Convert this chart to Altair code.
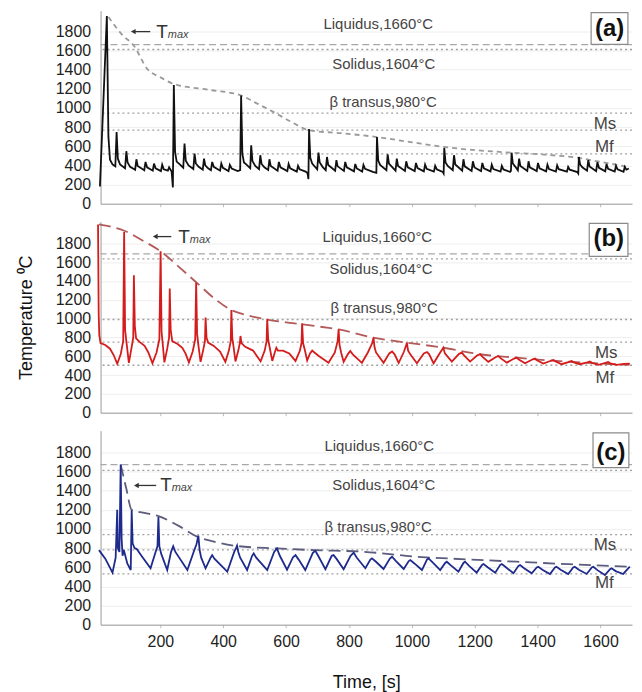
import altair as alt
import pandas as pd

# ---------------- data ----------------
x_ticks = [200, 400, 600, 800, 1000, 1200, 1400, 1600]
y_ticks = [0, 200, 400, 600, 800, 1000, 1200, 1400, 1600, 1800]
ref_names = ["Liquidus,1660°C", "Solidus,1604°C", "β transus,980°C", "Ms", "Mf"]

# (time s, temperature C)
series_a = [
    (8, 180), (30, 1960), (35, 700), (40, 460), (48, 410), (57, 390), (61, 748), (65, 470), (72, 410),
    (88, 370), (92, 548), (96, 430), (104, 385), (120, 355), (124, 464), (128, 395), (149, 350),
    (153, 436), (158, 380), (176, 345), (180, 419), (185, 370), (202, 340), (206, 408), (211, 360),
    (224, 345), (228, 380), (236, 335), (240, 170),
    (243, 1240), (247, 540), (252, 440), (262, 410), (273, 375), (277, 627), (281, 450), (290, 400),
    (305, 362), (309, 523), (313, 420), (322, 385), (335, 355), (339, 471), (343, 400), (352, 370),
    (361, 350), (365, 436), (370, 385), (390, 345), (394, 420), (399, 375), (417, 340), (421, 405),
    (427, 368), (446, 340), (454, 350),
    (457, 1130), (461, 520), (466, 430), (475, 405), (486, 370), (489, 610), (493, 445), (502, 395),
    (514, 360), (518, 506), (522, 415), (531, 380), (543, 352), (547, 464), (551, 395), (573, 345),
    (577, 436), (582, 380), (604, 340), (608, 415), (613, 370), (634, 335), (638, 395), (643, 360),
    (662, 335), (668, 320), (671, 256),
    (673, 780), (677, 480), (683, 420), (699, 360), (703, 533), (707, 430), (716, 385), (726, 350),
    (730, 488), (734, 405), (756, 345), (760, 454), (764, 390), (784, 342), (788, 436), (793, 380),
    (816, 338), (820, 415), (825, 368), (842, 335), (846, 405), (851, 365), (876, 332), (887, 322),
    (889, 696), (893, 450), (899, 405), (919, 350), (923, 516), (927, 420), (948, 345), (952, 471),
    (956, 395), (978, 342), (982, 443), (987, 380), (1009, 340), (1013, 426), (1018, 372),
    (1038, 338), (1042, 408), (1047, 365), (1070, 335), (1074, 395), (1079, 360), (1098, 332),
    (1101, 315),
    (1103, 582), (1107, 430), (1114, 395), (1130, 350), (1134, 506), (1138, 410), (1160, 345),
    (1164, 464), (1168, 390), (1190, 342), (1194, 443), (1199, 378), (1220, 340), (1224, 426),
    (1229, 370), (1250, 338), (1254, 408), (1259, 362), (1282, 335), (1286, 395), (1291, 358),
    (1312, 332), (1315, 343),
    (1317, 533), (1321, 420), (1328, 390), (1337, 348), (1341, 471), (1345, 395), (1367, 342),
    (1371, 443), (1375, 380), (1397, 340), (1401, 426), (1406, 370), (1427, 338), (1431, 408),
    (1436, 362), (1458, 336), (1462, 401), (1467, 360), (1493, 334), (1497, 384), (1502, 355),
    (1526, 330), (1529, 315),
    (1531, 488), (1535, 410), (1542, 380), (1557, 345), (1561, 454), (1565, 390), (1586, 340),
    (1590, 433), (1595, 375), (1615, 338), (1619, 415), (1624, 365), (1645, 336), (1649, 395),
    (1654, 358), (1673, 334), (1677, 384), (1682, 355), (1690, 367),
]
tmax_a = [
    (35, 1950), (80, 1760), (116, 1650), (159, 1405), (200, 1320), (243, 1250), (350, 1191),
    (457, 1130), (510, 1042), (561, 956), (614, 859), (674, 766), (780, 735), (889, 696),
    (995, 644), (1103, 592), (1207, 558), (1317, 533), (1422, 512), (1531, 478), (1597, 439),
    (1688, 384),
]

series_b = [
    (2, 2000), (4, 1050), (6, 820), (10, 740), (25, 720), (40, 680), (52, 610), (63, 520), (74, 620),
    (82, 760), (85, 1920), (88, 880), (92, 760), (100, 530), (108, 680), (114, 800), (116, 1460),
    (119, 920), (123, 790), (135, 750), (150, 710), (162, 640), (175, 525), (188, 640), (197, 780),
    (201, 1715), (204, 860), (208, 720), (213, 535), (222, 680), (228, 800), (230, 1320), (233, 880),
    (238, 760), (255, 730), (270, 690), (280, 630), (291, 535), (303, 650), (311, 780), (314, 1380),
    (317, 840), (321, 720), (328, 540), (336, 660), (342, 760), (344, 1010), (347, 800), (352, 745),
    (370, 710), (390, 650), (407, 540), (418, 660), (424, 760), (426, 1090), (429, 790), (433, 700),
    (439, 545), (448, 660), (453, 740), (455, 815), (458, 740), (470, 700), (495, 660), (519, 545),
    (532, 660), (538, 760), (540, 995), (543, 780), (548, 690), (556, 550), (564, 640), (569, 690),
    (574, 660), (590, 660), (610, 630), (630, 550), (644, 660), (649, 740), (651, 950), (654, 740),
    (660, 660), (667, 555), (676, 630), (683, 660), (690, 640), (705, 600), (735, 530), (755, 640),
    (764, 760), (767, 885), (770, 720), (775, 640), (783, 540), (796, 620), (804, 656), (812, 620),
    (841, 530), (860, 640), (874, 740), (878, 797), (881, 700), (886, 640), (910, 530), (928, 630),
    (937, 650), (945, 620), (958, 528), (975, 650), (982, 720), (984, 744), (988, 660), (995, 620),
    (1016, 525), (1038, 630), (1048, 645), (1055, 620), (1069, 525), (1090, 640), (1098, 680),
    (1100, 691), (1105, 630), (1127, 543), (1150, 625), (1159, 638), (1166, 610), (1185, 543),
    (1208, 610), (1217, 621), (1224, 595), (1243, 540), (1266, 590), (1275, 603), (1282, 580),
    (1302, 532), (1325, 575), (1333, 585), (1340, 565), (1360, 525), (1383, 565), (1392, 575),
    (1399, 555), (1418, 522), (1442, 552), (1450, 561), (1457, 545), (1476, 515), (1500, 540),
    (1508, 550), (1515, 535), (1534, 515), (1558, 535), (1566, 543), (1573, 530), (1593, 508),
    (1616, 530), (1624, 538), (1631, 525), (1651, 508), (1675, 518), (1693, 522),
]
tmax_b = [
    (5, 2000), (87, 1930), (150, 1818), (201, 1715), (260, 1547), (314, 1386), (370, 1219),
    (423, 1095), (480, 1033), (540, 990), (600, 960), (651, 940), (730, 903), (767, 885),
    (878, 797), (984, 744), (1100, 691), (1217, 621), (1333, 585), (1460, 550), (1577, 526),
    (1692, 508),
]

series_c = [
    (5, 779), (25, 690), (48, 544), (58, 700), (63, 1200), (65, 800), (70, 760), (74, 1673), (77, 900),
    (80, 720), (84, 780), (95, 640), (106, 571), (109, 1195), (112, 850), (118, 800), (125, 790),
    (140, 720), (169, 589), (185, 760), (191, 820), (194, 1125), (197, 820), (203, 740), (222, 571),
    (234, 760), (241, 820), (248, 760), (286, 571), (306, 760), (315, 840), (321, 930), (325, 780),
    (330, 700), (344, 589), (360, 700), (365, 727), (372, 690), (413, 554), (435, 760), (441, 800),
    (444, 825), (448, 760), (454, 700), (476, 571), (492, 720), (497, 745), (505, 700), (540, 571),
    (562, 760), (571, 797), (580, 720), (603, 575), (622, 705), (630, 727), (640, 680), (661, 571),
    (685, 750), (693, 772), (702, 720), (725, 580), (745, 720), (751, 727), (760, 690), (783, 580),
    (805, 720), (815, 752), (825, 700), (852, 590), (868, 680), (873, 693), (885, 660), (910, 582),
    (930, 690), (937, 710), (948, 670), (974, 582), (990, 665), (995, 675), (1008, 640), (1032, 571),
    (1048, 680), (1053, 693), (1066, 650), (1090, 571), (1106, 645), (1111, 658), (1124, 620),
    (1148, 554), (1164, 645), (1169, 658), (1182, 615), (1206, 544), (1223, 625), (1228, 634),
    (1241, 600), (1265, 544), (1281, 625), (1286, 634), (1299, 600), (1323, 537), (1339, 615),
    (1344, 623), (1357, 590), (1381, 537), (1397, 598), (1402, 606), (1415, 575), (1439, 530),
    (1455, 598), (1460, 606), (1473, 575), (1497, 530), (1513, 598), (1518, 606), (1531, 575),
    (1556, 530), (1572, 598), (1577, 606), (1590, 570), (1614, 519), (1630, 580), (1635, 589),
    (1648, 560), (1672, 530), (1693, 606),
]
tmax_c = [
    (74, 1673), (92, 1420), (109, 1200), (150, 1168), (194, 1135), (260, 1030), (317, 920),
    (380, 860), (444, 822), (571, 797), (688, 779), (847, 762), (1016, 710), (1180, 682),
    (1333, 658), (1500, 632), (1693, 606),
]

# drawn level of each reference line in each panel (Liquidus, Solidus, beta transus, Ms, Mf)
refs_a = [1662, 1610, 945, 769, 520]
refs_b = [1688, 1635, 990, 750, 504]
refs_c = [1672, 1612, 942, 781, 532]

# annotation anchors in data coordinates (time, temperature)
ann_a = dict(labels=[(719, 1881), (747, 1455), (738, 1060), (1578, 831), (1582, 592)],
             box=(1570, 1687, 1995, 1663), letter=(1629, 1829), letter_text="(a)",
             arrow=(114, 168, 1797), T=(187, 1797), sub=(224, 1760))
ann_b = dict(labels=[(716, 1871), (738, 1522), (741, 1110), (1582, 634), (1584, 370)],
             box=(1564, 1687, 2012, 1660), letter=(1626, 1850), letter_text="(b)",
             arrow=(184, 235, 1871), T=(257, 1871), sub=(294, 1832))
ann_c = dict(labels=[(722, 1870), (747, 1455), (722, 1018), (1578, 831), (1582, 436)],
             box=(1576, 1690, 2005, 1641), letter=(1633, 1797), letter_text="(c)",
             arrow=(124, 187, 1455), T=(200, 1455), sub=(236, 1425))


def make_panel(series, tmax, refs, ann, line_color, tmax_color, tmax_dash, ydom, height,
               bottom=False, ytitle=False):
    xs = alt.Scale(domain=[10, 1700], nice=False, zero=False)
    ys = alt.Scale(domain=ydom, nice=False, zero=False)
    if bottom:
        xaxis = alt.Axis(values=x_ticks, format="d", tickSize=3, tickColor="#bbbbbb",
                         domainColor="#9a9a9a", grid=False, labelFontSize=16, labelColor="#222222",
                         labelPadding=6, titleFontSize=18, titleFontWeight="normal",
                         titleColor="#111111", titlePadding=24)
        X = alt.X("t:Q", scale=xs, axis=xaxis, title="Time, [s]")
    else:
        xaxis = alt.Axis(values=x_ticks, tickSize=3, tickColor="#bbbbbb", domainColor="#9a9a9a",
                         grid=False, labels=False)
        X = alt.X("t:Q", scale=xs, axis=xaxis, title=None)
    yaxis = alt.Axis(values=y_ticks, format="d", ticks=False, labelPadding=10, labelFontSize=16,
                     labelColor="#222222", domainColor="#9a9a9a", grid=True, gridColor="#eeeeee",
                     titleFontSize=18, titleFontWeight="normal", titleColor="#111111",
                     titlePadding=20)
    if ytitle:
        Y = alt.Y("T:Q", scale=ys, axis=yaxis, title="Temperature ⁰C")
    else:
        Y = alt.Y("T:Q", scale=ys, axis=yaxis, title=None)

    sdf = pd.DataFrame(series, columns=["t", "T"])
    sdf["i"] = range(len(sdf))
    tdf = pd.DataFrame(tmax, columns=["t", "T"])
    rdf = pd.DataFrame({"T": refs, "kind": ["liq", "sol", "beta", "ms", "mf"]})
    ldf = pd.DataFrame({"t": [p[0] for p in ann["labels"]], "T": [p[1] for p in ann["labels"]],
                        "label": ref_names})
    b = ann["box"]
    bdf = pd.DataFrame({"t": [b[0]], "t2": [b[1]], "T": [b[2]], "T2": [b[3]]})
    letdf = pd.DataFrame({"t": [ann["letter"][0]], "T": [ann["letter"][1]], "label": [ann["letter_text"]]})
    a = ann["arrow"]
    adf = pd.DataFrame({"t": [a[0]], "t2": [a[1]], "T": [a[2]]})
    Tdf = pd.DataFrame({"t": [ann["T"][0]], "T": [ann["T"][1]], "label": ["T"]})
    subdf = pd.DataFrame({"t": [ann["sub"][0]], "T": [ann["sub"][1]], "label": ["max"]})

    liq = alt.Chart(rdf[rdf.kind == "liq"]).mark_rule(
        color="#a8a8a8", strokeWidth=1.3, strokeDash=[7, 4]).encode(y=Y)
    dots = alt.Chart(rdf[rdf.kind != "liq"]).mark_rule(
        color="#a0a0a0", strokeWidth=1.3, strokeDash=[2, 3]).encode(y=Y)
    tline = alt.Chart(tdf).mark_line(
        color=tmax_color, strokeWidth=1.8, strokeDash=tmax_dash, interpolate="monotone").encode(x=X, y=Y)
    sline = alt.Chart(sdf).mark_line(color=line_color, strokeWidth=1.8).encode(x=X, y=Y, order="i:Q")
    big = ldf.iloc[:3]
    small = ldf.iloc[3:]
    labels = alt.Chart(big).mark_text(align="left", baseline="middle", fontSize=15,
                                      color="#444444").encode(x=X, y=Y, text="label:N")
    mlabels = alt.Chart(small).mark_text(align="left", baseline="middle", fontSize=17,
                                         color="#444444").encode(x=X, y=Y, text="label:N")
    box = alt.Chart(bdf).mark_rect(fill="white", stroke="#8a8a8a", strokeWidth=1.2).encode(
        x=X, x2=alt.X2("t2"), y=Y, y2=alt.Y2("T2"))
    letter = alt.Chart(letdf).mark_text(fontSize=24, fontWeight="bold", color="#111111",
                                        baseline="middle").encode(x=X, y=Y, text="label:N")
    arrow = alt.Chart(adf).mark_rule(color="#333333", strokeWidth=1.3).encode(x=X, x2=alt.X2("t2"), y=Y)
    head = alt.Chart(adf).mark_point(shape="triangle-left", size=30, filled=True, color="#333333",
                                     opacity=1).encode(x=X, y=Y)
    Tt = alt.Chart(Tdf).mark_text(align="left", baseline="middle", fontSize=19,
                                  color="#333333").encode(x=X, y=Y, text="label:N")
    sub = alt.Chart(subdf).mark_text(align="left", baseline="middle", fontSize=11, fontStyle="italic",
                                     color="#444444").encode(x=X, y=Y, text="label:N")

    return alt.layer(liq, dots, tline, sline, labels, mlabels, box, letter, arrow, head, Tt,
                     sub).properties(width=534, height=height)


pa = make_panel(series_a, tmax_a, refs_a, ann_a, "#111111", "#9a9a9a", [5, 4], [0, 2016], 194)
pb = make_panel(series_b, tmax_b, refs_b, ann_b, "#d41c1c", "#b35a5a", [12, 6], [0, 2030], 192,
                ytitle=True)
pc = make_panel(series_c, tmax_c, refs_c, ann_c, "#1e2a8c", "#5c5c7e", [12, 6], [0, 2028], 195,
                bottom=True)

chart = alt.vconcat(pa, pb, pc, spacing=18, bounds="flush").properties(
    padding={"left": 8, "top": 0, "right": 0, "bottom": 0}
).configure(font="Liberation Sans").configure_view(stroke="transparent")

chart.save("out.html", embed_options={"renderer": "svg", "actions": False})
